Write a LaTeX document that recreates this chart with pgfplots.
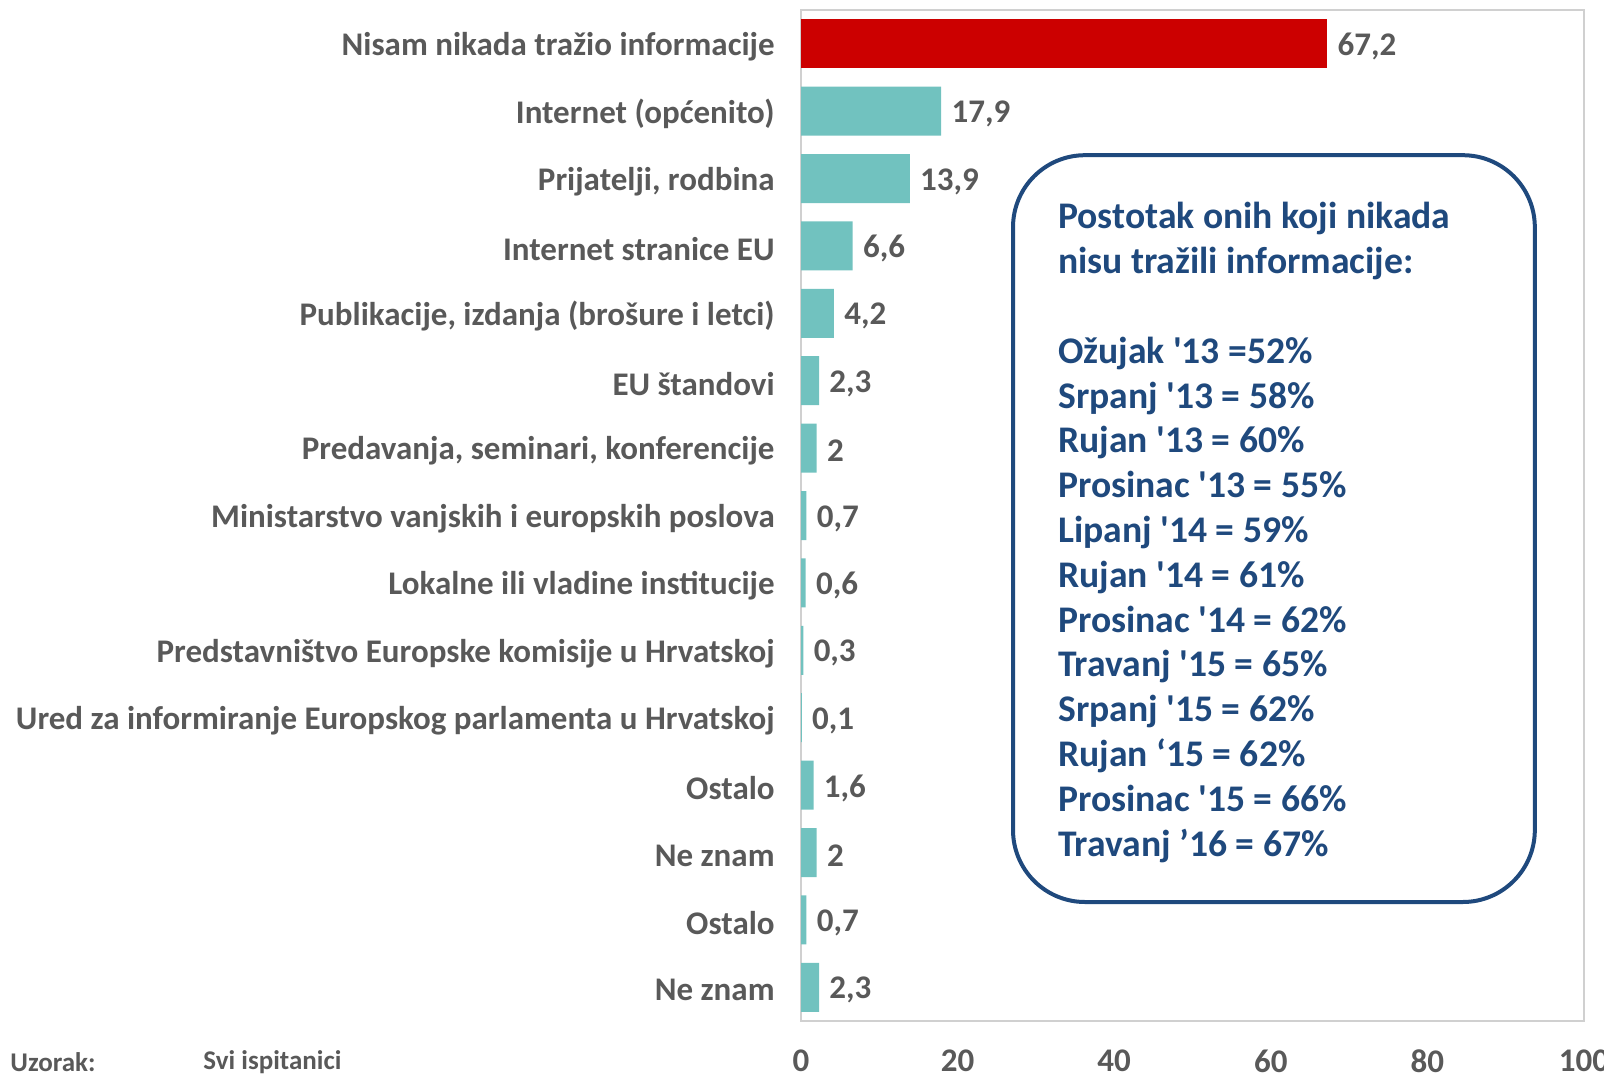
\documentclass[border=0pt]{standalone}
\usepackage{pgfplots}
\pgfplotsset{compat=1.18}
\usepackage{pgfplotstable}
\usepackage{fontspec}
\setmainfont{Carlito}
\definecolor{teal1}{HTML}{71C2BF}
\definecolor{red1}{HTML}{CC0000}
\definecolor{lab}{HTML}{595959}
\definecolor{boxc}{HTML}{1F497D}
\definecolor{framec}{HTML}{D0D0D0}
\newcommand\q{\textquotesingle}
\newcommand\labfont{\fontsize{16.5}{19.5}\selectfont\bfseries}
\newcommand\boxfont{\fontsize{18.8}{22.4}\selectfont\bfseries}
\newcommand\smfont{\fontsize{13.5}{16}\selectfont\bfseries}

\pgfplotstableread[col sep=semicolon]{
y;v;l
0;67.2;67,2
}\reddata
\pgfplotstableread[col sep=semicolon]{
y;v;l
1;17.9;17,9
2;13.9;13,9
3;6.6;6,6
4;4.2;4,2
5;2.3;2,3
6;2;2
7;0.7;0,7
8;0.6;0,6
9;0.3;0,3
10;0.1;0,1
11;1.6;1,6
12;2;2
13;0.7;0,7
14;2.3;2,3
}\tealdata

\begin{document}
\begin{tikzpicture}
\useasboundingbox (0pt,0pt) rectangle (802pt,539pt);
\begin{axis}[
  at={(400.5pt,28.5pt)}, anchor=south west,
  scale only axis, width=391.5pt, height=505.5pt,
  xbar, bar shift=0pt, bar width=24.5pt,
  xmin=0, xmax=100, ymin=-0.5, ymax=14.5, y dir=reverse,
  ytick={0,...,14},
  yticklabels={Nisam nikada tražio informacije, Internet (općenito), {Prijatelji, rodbina}, Internet stranice EU, {Publikacije, izdanja (brošure i letci)}, EU štandovi, {Predavanja, seminari, konferencije}, Ministarstvo vanjskih i europskih poslova, Lokalne ili vladine institucije, Predstavništvo Europske komisije u Hrvatskoj, Ured za informiranje Europskog parlamenta u Hrvatskoj, Ostalo, Ne znam, Ostalo, Ne znam},
  xtick={0,20,...,100},
  axis line style={framec, line width=1pt},
  major tick length=0pt,
  tick label style={font=\labfont, text=lab},
  /pgf/number format/assume math mode=true,
  xticklabel style={anchor=center, yshift=-20pt},
  yticklabel style={anchor=east, inner sep=0pt, xshift=-13pt, yshift=-1.5pt},
  nodes near coords, point meta=explicit symbolic,
  nodes near coords style={font=\labfont, text=lab, anchor=west, inner sep=0pt, xshift=5pt, yshift=-1.5pt},
  clip=false,
]
\addplot[fill=red1, draw=none] table[x=v, y=y, meta=l] {\reddata};
\addplot[fill=teal1, draw=none] table[x=v, y=y, meta=l] {\tealdata};
\end{axis}
\draw[boxc, line width=2pt, rounded corners=36pt] (506.5pt,88pt) rectangle (767.4pt,461.4pt);
\begin{scope}[every node/.style={anchor=base west, inner sep=0pt, font=\boxfont, text=boxc}]
\node at (528.9pt,424.6pt) {Postotak onih koji nikada};
\node at (528.9pt,402.2pt) {nisu tražili informacije:};
\node at (528.9pt,357.4pt) {Ožujak \q13 =52\%};
\node at (528.9pt,335.0pt) {Srpanj \q13 = 58\%};
\node at (528.9pt,312.6pt) {Rujan \q13 = 60\%};
\node at (528.9pt,290.2pt) {Prosinac \q13 = 55\%};
\node at (528.9pt,267.8pt) {Lipanj \q14 = 59\%};
\node at (528.9pt,245.4pt) {Rujan \q14 = 61\%};
\node at (528.9pt,223.0pt) {Prosinac \q14 = 62\%};
\node at (528.9pt,200.6pt) {Travanj \q15 = 65\%};
\node at (528.9pt,178.2pt) {Srpanj \q15 = 62\%};
\node at (528.9pt,155.8pt) {Rujan ‘15 = 62\%};
\node at (528.9pt,133.4pt) {Prosinac \q15 = 66\%};
\node at (528.9pt,111.0pt) {Travanj ’16 = 67\%};
\end{scope}
\node[anchor=west, inner sep=0pt, font=\smfont, text=lab] at (5pt,8pt) {Uzorak:};
\node[anchor=west, inner sep=0pt, font=\smfont, text=lab] at (101.5pt,8pt) {Svi ispitanici};
\end{tikzpicture}
\end{document}
